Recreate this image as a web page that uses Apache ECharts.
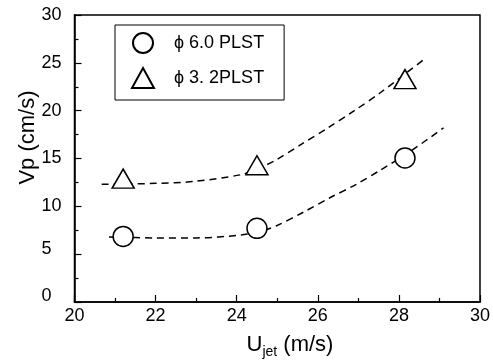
<!DOCTYPE html>
<html>
<head>
<meta charset="utf-8">
<script src="https://cdn.jsdelivr.net/npm/echarts@6/dist/echarts.min.js"></script>
<style>html,body{margin:0;padding:0;background:#fff}#c{width:493px;height:360px}</style>
</head>
<body>
<div id="c"></div>
<script>
// Measured points
var uJet = [21.2, 24.5, 28.15];
var vp60 = [6.85, 7.7, 15.05];
var vp32 = [12.9, 14.3, 23.3];
// Dashed fit curves
var fit60X = [20.85, 22, 23, 24.1, 24.6, 25, 25.65, 26.3, 26.95, 27.55, 28.3, 29.1];
var fit60Y = [6.8, 6.7, 6.7, 7.0, 7.4, 8.0, 9.4, 10.9, 12.3, 13.8, 15.8, 18.2];
var fit32X = [20.67, 22, 22.95, 24.1, 24.5, 24.95, 25.6, 26.25, 26.9, 27.55, 28.6];
var fit32Y = [12.3, 12.4, 12.6, 13.3, 13.9, 14.8, 16.5, 18.2, 20.0, 21.9, 25.3];
var names = ['\u03d5 6.0 PLST', '\u03d5 3. 2PLST'];
var xTicks = [20, 22, 24, 26, 28, 30];
var yTicks = [0, 5, 10, 15, 20, 25, 30];

function pairs(xs, ys) { return xs.map(function (x, i) { return [x, ys[i]]; }); }

var font = 'Liberation Sans, Arial, sans-serif';
var chart = echarts.init(document.getElementById('c'), null, {renderer: 'canvas'});
var axisCommon = {
  axisLine: {show: true, lineStyle: {color: '#000', width: 1.5}},
  axisTick: {show: true, inside: true, length: 7, lineStyle: {color: '#000', width: 1.2}},
  minorTick: {show: true, splitNumber: 2, length: 4, lineStyle: {color: '#000', width: 1.2}},
  splitLine: {show: false}
};
var lineStyleFit = {color: '#000', width: 1.5, type: [7, 5]};
chart.setOption({
  animation: false,
  grid: {left: 74.5, right: 10, top: 15, bottom: 58, show: true, borderColor: '#000', borderWidth: 1.5},
  xAxis: Object.assign({type: 'value', min: xTicks[0], max: xTicks[xTicks.length - 1], interval: 2}, axisCommon,
    {axisLabel: {color: '#000', fontSize: 18, fontFamily: font, margin: 5}}),
  yAxis: Object.assign({type: 'value', min: yTicks[0], max: yTicks[yTicks.length - 1], interval: 5}, axisCommon,
    {axisLabel: {color: '#000', fontSize: 18, fontFamily: font, margin: 33, align: 'left',
      formatter: function (v) { return v <= 5 ? '{lo|' + v + '}' : String(v); },
      rich: {lo: {fontSize: 18, fontFamily: font, color: '#000', padding: [0, 0, 11, 0]}}}}),
  legend: {
    data: names,
    orient: 'vertical',
    left: 115, top: 25,
    padding: [7, 20, 11, 16],
    itemGap: 13,
    itemWidth: 22, itemHeight: 20,
    borderColor: '#000', borderWidth: 1,
    textStyle: {color: '#000', fontSize: 18, fontFamily: font, padding: [0, 0, 0, 15]}
  },
  graphic: [
    {type: 'text', x: 28, y: 137.5, rotation: Math.PI / 2,
     style: {text: 'Vp (cm/s)', fontSize: 22, fontFamily: font, fill: '#000', align: 'center', verticalAlign: 'middle'}},
    {type: 'text', x: 290, y: 334,
     style: {text: '{u|U}{s|jet}{u| (m/s)}', fontFamily: font, fill: '#000', align: 'center', verticalAlign: 'top',
       rich: {u: {fontSize: 22, fontFamily: font, color: '#000', verticalAlign: 'bottom', lineHeight: 22},
              s: {fontSize: 14, fontFamily: font, color: '#000', verticalAlign: 'bottom', lineHeight: 16, padding: [0, 0, -3, 0]}}}}
  ],
  series: [
    {type: 'line', data: pairs(fit60X, fit60Y), smooth: 0.3, symbol: 'none', lineStyle: lineStyleFit, silent: true, z: 1},
    {type: 'line', data: pairs(fit32X, fit32Y), smooth: 0.3, symbol: 'none', lineStyle: lineStyleFit, silent: true, z: 1},
    {name: names[0], type: 'scatter', data: pairs(uJet, vp60), symbol: 'circle', symbolSize: 20,
     itemStyle: {color: '#fff', borderColor: '#000', borderWidth: 1.5, opacity: 1}, z: 3},
    {name: names[1], type: 'scatter', data: pairs(uJet, vp32), symbol: 'triangle', symbolSize: [22, 19],
     itemStyle: {color: '#fff', borderColor: '#000', borderWidth: 1.5, opacity: 1}, z: 3}
  ]
});
</script>
</body>
</html>
